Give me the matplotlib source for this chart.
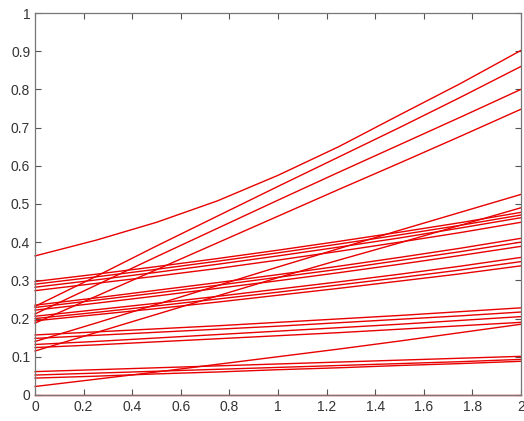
import numpy as np
import matplotlib
matplotlib.use("Agg")
import matplotlib.pyplot as plt
from matplotlib.ticker import FuncFormatter

x_pts = [0, 0.25, 0.5, 0.75, 1.0, 1.25, 1.5, 1.75, 2.0]

# steep curves (top four at the right edge)
steep = [
    [0.364, 0.405, 0.452, 0.508, 0.575, 0.650, 0.733, 0.815, 0.902],
    [0.232, 0.310, 0.390, 0.468, 0.546, 0.623, 0.700, 0.779, 0.860],
    [0.212, 0.287, 0.362, 0.436, 0.510, 0.583, 0.655, 0.727, 0.800],
    [0.188, 0.258, 0.328, 0.398, 0.468, 0.538, 0.607, 0.677, 0.748],
]

# curves that start low and cross the others
crossing = [
    [0.140, 0.188, 0.237, 0.286, 0.335, 0.383, 0.431, 0.478, 0.525],
    [0.115, 0.163, 0.211, 0.259, 0.307, 0.353, 0.398, 0.444, 0.490],
    [0.022, 0.041, 0.060, 0.080, 0.100, 0.120, 0.141, 0.163, 0.185],
]

# slowly rising curves
flat = [
    [0.297, 0.316, 0.336, 0.357, 0.379, 0.402, 0.426, 0.451, 0.478],
    [0.290, 0.309, 0.329, 0.350, 0.372, 0.395, 0.419, 0.444, 0.471],
    [0.282, 0.301, 0.321, 0.342, 0.364, 0.387, 0.411, 0.437, 0.464],
    [0.273, 0.292, 0.311, 0.331, 0.353, 0.376, 0.400, 0.425, 0.452],
    [0.235, 0.254, 0.274, 0.294, 0.315, 0.337, 0.360, 0.384, 0.410],
    [0.229, 0.248, 0.267, 0.287, 0.308, 0.329, 0.352, 0.375, 0.400],
    [0.222, 0.240, 0.259, 0.279, 0.299, 0.320, 0.342, 0.365, 0.389],
    [0.206, 0.223, 0.240, 0.258, 0.277, 0.296, 0.316, 0.337, 0.360],
    [0.200, 0.216, 0.233, 0.251, 0.269, 0.288, 0.307, 0.327, 0.349],
    [0.194, 0.210, 0.226, 0.243, 0.261, 0.279, 0.298, 0.317, 0.338],
    [0.157, 0.165, 0.173, 0.181, 0.190, 0.199, 0.208, 0.218, 0.228],
    [0.148, 0.156, 0.164, 0.172, 0.180, 0.189, 0.198, 0.207, 0.217],
    [0.132, 0.140, 0.149, 0.158, 0.167, 0.176, 0.185, 0.195, 0.205],
    [0.124, 0.131, 0.139, 0.147, 0.155, 0.163, 0.172, 0.181, 0.190],
    [0.061, 0.066, 0.071, 0.076, 0.081, 0.086, 0.091, 0.096, 0.101],
    [0.052, 0.057, 0.062, 0.067, 0.072, 0.077, 0.082, 0.087, 0.093],
    [0.044, 0.049, 0.055, 0.060, 0.066, 0.071, 0.077, 0.082, 0.088],
    [0.000, 0.000, 0.000, 0.000, 0.000, 0.000, 0.000, 0.000, 0.000],
]

x_ticks = [0, 0.2, 0.4, 0.6, 0.8, 1, 1.2, 1.4, 1.6, 1.8, 2]
y_ticks = [0, 0.1, 0.2, 0.3, 0.4, 0.5, 0.6, 0.7, 0.8, 0.9, 1]

plt.rcParams['font.family'] = ['Liberation Sans', 'DejaVu Sans']

fig = plt.figure(figsize=(5.24, 4.21), dpi=100)
ax = fig.add_axes([0.067, 0.062, 0.927, 0.907])

for curve in steep + crossing + flat:
    ax.plot(x_pts, curve, color='#e80000', lw=1.0, clip_on=False)

ax.set_xlim(0, 2)
ax.set_ylim(0, 1)
ax.set_xticks(x_ticks)
ax.set_yticks(y_ticks)
fmt = FuncFormatter(lambda v, p: '%g' % v)
ax.xaxis.set_major_formatter(fmt)
ax.yaxis.set_major_formatter(fmt)
ax.tick_params(direction='in', length=4, width=0.8, colors='#555555',
               labelcolor='#333333', labelsize=10, top=True, right=True)
for s in ax.spines.values():
    s.set_color('#777777')
    s.set_linewidth(0.9)

fig.savefig('out.png', dpi=100)
